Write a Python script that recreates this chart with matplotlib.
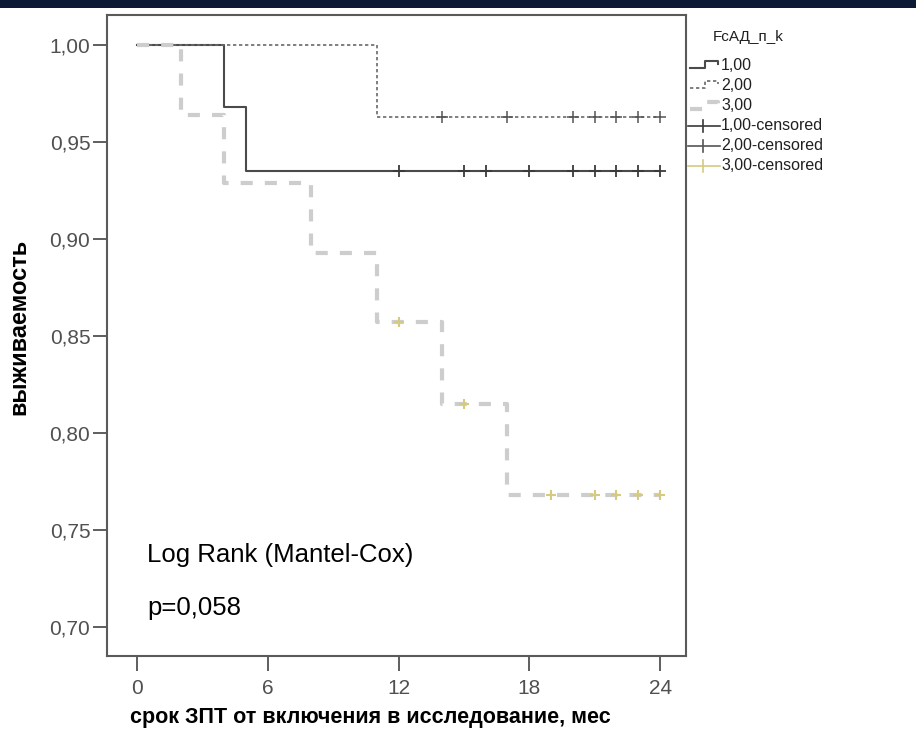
import numpy as np
import matplotlib
matplotlib.use("Agg")
from matplotlib import pyplot as plt
from matplotlib.lines import Line2D
from matplotlib.patches import Rectangle

plt.rcParams['font.family'] = ['Liberation Sans', 'DejaVu Sans']

# Kaplan-Meier steps per group (time in months, cumulative survival)
t1 = [0, 4, 5, 24]
s1 = [1.000, 0.968, 0.935, 0.935]
cens1 = [12, 15, 16, 18, 20, 21, 22, 23, 24]

t2 = [0, 11, 24]
s2 = [1.000, 0.963, 0.963]
cens2 = [14, 17, 20, 21, 22, 23, 24]

t3 = [0, 2, 4, 8, 11, 14, 17, 24]
s3 = [1.000, 0.964, 0.929, 0.893, 0.857, 0.815, 0.768, 0.768]
cens3 = [12, 15, 19, 21, 22, 23, 24]

x_ticks = [0, 6, 12, 18, 24]
y_ticks = [0.70, 0.75, 0.80, 0.85, 0.90, 0.95, 1.00]
group_names = ["1,00", "2,00", "3,00"]


def surv_at(times, surv, c):
    # value of the step function at each censoring time
    idx = np.searchsorted(times, c, side='right') - 1
    return np.array(surv)[idx]


W, H = 916, 736
fig = plt.figure(figsize=(W / 100, H / 100), dpi=100)

def fx(px):
    return px / W

def fy(py):
    return 1 - py / H

# dark strip along the top edge
fig.patches.append(Rectangle((0, fy(8)), 1, 8 / H, transform=fig.transFigure,
                             facecolor='#0c1a33', edgecolor='none', zorder=0))

ax = fig.add_axes([fx(107), fy(656), fx(686) - fx(107), fy(15) - fy(656)])

c1, c2, c3 = '#4a4a4a', '#6a6a6a', '#cdcdcd'
cens_col3 = '#d4ca82'

ax.step(t1, s1, where='post', color=c1, lw=1.5, zorder=3)
ax.step(t2, s2, where='post', color=c2, lw=1.2, dashes=(2.0, 1.6), zorder=3)
ax.step(t3, s3, where='post', color=c3, lw=3.0, dashes=(2.9, 2.9), zorder=4)

ax.plot(cens1, surv_at(t1, s1, cens1), '+', color='#3a3a3a', ms=8, mew=1.3, zorder=5)
ax.plot(cens2, surv_at(t2, s2, cens2), '+', color='#555555', ms=8, mew=1.1, zorder=5)
ax.plot(cens3, surv_at(t3, s3, cens3), '+', color=cens_col3, ms=7.5, mew=1.5, zorder=5)

ax.set_xlim(-1.375, 25.19)
ax.set_ylim(0.6850, 1.0155)
ax.set_xticks(x_ticks)
ax.set_xticklabels([str(v) for v in x_ticks])
ax.set_yticks(y_ticks)
ax.set_yticklabels([f"{v:.2f}".replace('.', ',') for v in y_ticks])

for sp in ax.spines.values():
    sp.set_color('#5a5a5a')
    sp.set_linewidth(1.5)

ax.tick_params(axis='x', direction='out', length=10.5, width=1.1, color='#333333',
               labelsize=15, labelcolor='#505050', pad=6)
ax.tick_params(axis='y', direction='out', length=10, width=1.1, color='#333333',
               labelsize=15, labelcolor='#505050', pad=2)

ax.text(0.47, 0.7335, "Log Rank (Mantel-Cox)", fontsize=18.5, color='black')
ax.text(0.47, 0.7060, "p=0,058", fontsize=18.5, color='black')

fig.text(fx(19), fy(327), "выживаемость", rotation=90, fontsize=17, weight='bold',
         ha='center', va='center')
fig.text(fx(370), fy(717), "срок ЗПТ от включения в исследование, мес", fontsize=15.5,
         weight='bold', ha='center', va='center')

# legend, drawn beside the plot frame
fig.text(fx(713), fy(37), "FcАД_п_k", fontsize=11, color='#202020', va='center')
rows = [65, 85, 106, 126, 146, 166]
line_styles = [dict(color=c1, lw=1.5), dict(color=c2, lw=1.2, dashes=(2.0, 1.6)),
               dict(color=c3, lw=3.0, dashes=(2.9, 2.9))]
for i, name in enumerate(group_names):
    y = rows[i]
    xs = [fx(690), fx(705), fx(705), fx(718), fx(718)]
    ys = [fy(y + 3), fy(y + 3), fy(y - 4), fy(y - 4), fy(y - 1)]
    fig.add_artist(Line2D(xs, ys, transform=fig.transFigure, **line_styles[i]))
    fig.text(fx(721), fy(y), name, fontsize=11.5, color='#202020', va='center')
cens_cols = ['#3a3a3a', '#555555', cens_col3]
for i, name in enumerate(group_names):
    y = rows[3 + i]
    fig.add_artist(Line2D([fx(688), fx(720)], [fy(y), fy(y)], transform=fig.transFigure,
                          color=cens_cols[i], lw=1.2))
    fig.add_artist(Line2D([fx(703), fx(703)], [fy(y - 6), fy(y + 6)], transform=fig.transFigure,
                          color=cens_cols[i], lw=1.2))
    fig.text(fx(721), fy(y), name + "-censored", fontsize=11.5, color='#202020', va='center')

fig.savefig("out.png", dpi=100)
